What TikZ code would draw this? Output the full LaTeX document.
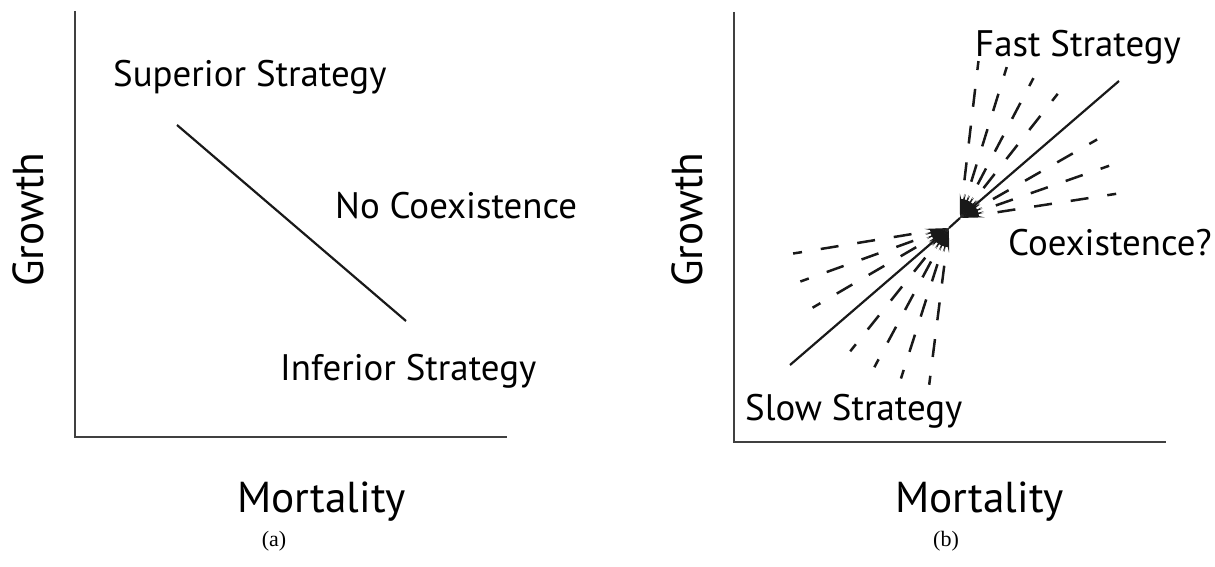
\documentclass[tikz,border=0pt]{standalone}
\usepackage{fontspec}
\setmainfont{PT Sans}
\newfontfamily\capfont{Liberation Serif}
\usetikzlibrary{arrows.meta,calc}
\begin{document}
\begin{tikzpicture}[x=1pt,y=-1pt,
  axis/.style={line width=2.5pt, draw=black!75},
  curve/.style={line width=2.2pt, draw=black!90},
  dasharrow/.style={line width=2.5pt, draw=black!90, dash pattern=on 18pt off 19pt, dash phase=9pt,
    -{Stealth[length=24pt,width=6pt]}},
  solidarrow/.style={line width=2.2pt, draw=black!90, -{Stealth[length=24pt,width=6pt]}},
  lbl/.style={inner sep=0pt, anchor=base west, font=\fontsize{36.9}{40}\selectfont},
  big/.style={inner sep=0pt, anchor=base west, font=\fontsize{43.3}{46}\selectfont},
  captxt/.style={inner sep=0pt, font=\capfont\fontsize{22}{26}\selectfont}]
\useasboundingbox (0,0) rectangle (1215,567);

% ---------- panel (a)
\coordinate (aT) at (75,11);
\coordinate (aO) at (75,437);
\coordinate (aR) at (507,437);
\draw[axis] (aT) -- (aO) -- (aR);
\coordinate (aS) at (177,125);
\coordinate (aI) at (406,321);
\draw[curve] (aS) -- (aI);
\node[lbl] (sup) at (113,87) {Superior Strategy};
\node[lbl] (noc) at (335,218) {No Coexistence};
\node[lbl] (inf) at (280,380) {Inferior Strategy};
\node[big] (amort) at (237,512) {Mortality};
\node[big, rotate=90] (agrow) at (43,287) {Growth};
\node[captxt] (acap) at (274,541) {(a)};

% ---------- panel (b)
\coordinate (bT) at (734,12);
\coordinate (bO) at (734,442);
\coordinate (bR) at (1166,442);
\draw[axis] (bT) -- (bO) -- (bR);
\coordinate (bS) at (790,365);
\coordinate (bF) at (1119,81);
\coordinate (P1) at (960,218);
\coordinate (P2) at (949,228);
\draw[solidarrow] (bF) -- (P1);
\draw[solidarrow] (bS) -- (P2);
\draw[curve] (P1) -- (P2);
\foreach \a/\n in {83.3/1,72.8/2,62.3/3,51.8/4,29.8/5,19.3/6,8.8/7}{
  \coordinate (u\n) at ($(P1)+(-\a:158)$);
  \draw[dasharrow] (u\n) -- (P1);
}
\foreach \a/\n in {189.3/1,199.8/2,210.3/3,231.3/4,241.8/5,252.3/6,262.8/7}{
  \coordinate (l\n) at ($(P2)+(-\a:158)$);
  \draw[dasharrow] (l\n) -- (P2);
}
\node[lbl] (fast) at (975,57) {Fast Strategy};
\node[lbl] (coex) at (1008,255) {Coexistence?};
\node[lbl] (slow) at (745,420) {Slow Strategy};
\node[big] (bmort) at (895,512) {Mortality};
\node[big, rotate=90] (bgrow) at (702,287) {Growth};
\node[captxt] (bcap) at (946,541) {(b)};
\end{tikzpicture}
\end{document}
